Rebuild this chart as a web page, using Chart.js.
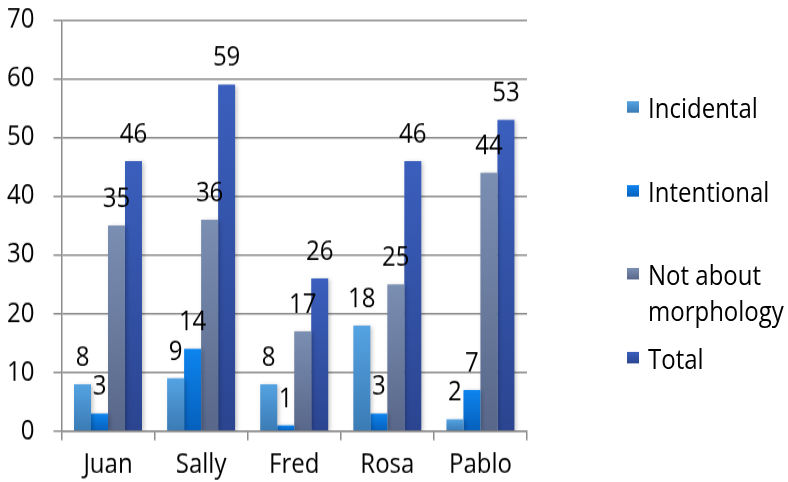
<!DOCTYPE html>
<html>
<head>
<meta charset="utf-8">
<script src="https://cdn.jsdelivr.net/npm/chart.js@4.4.1/dist/chart.umd.min.js"></script>
<style>
  html, body { margin: 0; padding: 0; background: #fff; overflow: hidden; }
  #wrap { position: relative; width: 788px; height: 482px; }
  /* the reference lettering is tall and narrow: the chart is drawn 419px high and stretched to 482px */
  #chart { width: 788px; height: 482px; }
  #legend { position: absolute; left: 627px; top: 0; transform: scaleY(1.15); transform-origin: 0 0;
            font-family: "Open Sans", sans-serif; font-size: 24px; color: #000; }
  .item { position: absolute; left: 0; display: flex; align-items: flex-start; white-space: nowrap; line-height: 31px; }
  .box { width: 12px; height: 10.4px; margin: 10.3px 9px 0 0; flex: none; }
</style>
</head>
<body>
<div id="wrap">
  <canvas id="chart" width="788" height="419" style="width:788px;height:482px"></canvas>
  <div id="legend"></div>
</div>
<script>
// categories and series
const students = ['Juan', 'Sally', 'Fred', 'Rosa', 'Pablo'];
const incidental = [8, 9, 8, 18, 2];
const intentional = [3, 14, 1, 3, 7];
const notMorphology = [35, 36, 17, 25, 44];
const total = [46, 59, 26, 46, 53];
const yTicks = [0, 10, 20, 30, 40, 50, 60, 70];

// [top colour, bottom colour] for each series
const shades = [
    ['#55a3e2', '#3a7bb5'],
    ['#0d84ee', '#0660bc'],
    ['#7b8fb2', '#58678a'],
    ['#3b5fbd', '#2b4590']
];

const FONT = '"Open Sans", sans-serif';

function barGradient(idx) {
    return function (ctx) {
        const chart = ctx.chart;
        if (!chart.chartArea || ctx.parsed === undefined) return shades[idx][0];
        const y = chart.scales.y;
        const top = y.getPixelForValue(ctx.parsed.y);
        const bottom = y.getPixelForValue(0);
        const g = chart.ctx.createLinearGradient(0, top, 0, bottom + 0.01);
        g.addColorStop(0, shades[idx][0]);
        g.addColorStop(1, shades[idx][1]);
        return g;
    };
}

function series(label, data, idx) {
    return {
        label: label,
        data: data,
        backgroundColor: barGradient(idx),
        borderWidth: 0,
        barPercentage: 1,
        categoryPercentage: 0.73
    };
}

// value labels above each bar
const valueLabels = {
    id: 'valueLabels',
    afterDatasetsDraw(chart) {
        const ctx = chart.ctx;
        ctx.save();
        ctx.font = '24px ' + FONT;
        ctx.fillStyle = '#000';
        ctx.textAlign = 'center';
        ctx.textBaseline = 'middle';
        chart.data.datasets.forEach((ds, i) => {
            chart.getDatasetMeta(i).data.forEach((bar, j) => {
                ctx.fillText(String(ds.data[j]), bar.x, bar.y - 23);
            });
        });
        ctx.restore();
    }
};

// soft shadow behind the bars
const barShadow = {
    id: 'barShadow',
    beforeDatasetsDraw(chart) {
        const ctx = chart.ctx;
        ctx.save();
        ctx.shadowColor = 'rgba(0,0,0,0.22)';
        ctx.shadowBlur = 4;
        ctx.shadowOffsetX = 2;
        ctx.shadowOffsetY = 1;
    },
    afterDatasetsDraw(chart) {
        chart.ctx.restore();
    }
};

const chart = new Chart(document.getElementById('chart'), {
    type: 'bar',
    data: {
        labels: students,
        datasets: [
            series('Incidental', incidental, 0),
            series('Intentional', intentional, 1),
            series('Not about morphology', notMorphology, 2),
            series('Total', total, 3)
        ]
    },
    options: {
        responsive: false,
        animation: false,
        layout: { padding: { left: -12, right: 261, top: 0, bottom: -6.6 } },
        plugins: {
            legend: { display: false },
            tooltip: { enabled: false }
        },
        scales: {
            y: {
                min: 0,
                max: 70,
                afterBuildTicks(axis) { axis.ticks = yTicks.map(v => ({ value: v })); },
                // keep only the room the top label really needs
                afterFit(axis) { axis.paddingTop = 17.4; axis.paddingBottom = 14; },
                ticks: { color: '#000', font: { family: FONT, size: 24 }, padding: 19 },
                grid: { color: '#8c8c8c', lineWidth: 1.5, tickLength: 8 },
                border: { color: '#8c8c8c', width: 1.5 }
            },
            x: {
                ticks: { color: '#000', font: { family: FONT, size: 24 }, padding: 7 },
                grid: { offset: true, drawOnChartArea: false, color: '#8c8c8c', lineWidth: 1.5, tickLength: 8 },
                border: { color: '#8c8c8c', width: 1.5 }
            }
        }
    },
    plugins: [barShadow, valueLabels]
});

// legend on the right (text centre of the first line for each entry, before the stretch)
const legendCentres = [93, 166.3, 238.3, 311];
const legendEl = document.getElementById('legend');
chart.data.datasets.forEach((ds, i) => {
    const item = document.createElement('div');
    item.className = 'item';
    item.style.top = (legendCentres[i] - 15.5) + 'px';
    const box = document.createElement('span');
    box.className = 'box';
    box.style.background = 'linear-gradient(' + shades[i][0] + ',' + shades[i][1] + ')';
    const txt = document.createElement('span');
    txt.innerHTML = ds.label === 'Not about morphology' ? 'Not about<br>morphology' : ds.label;
    item.appendChild(box);
    item.appendChild(txt);
    legendEl.appendChild(item);
});
</script>
</body>
</html>
